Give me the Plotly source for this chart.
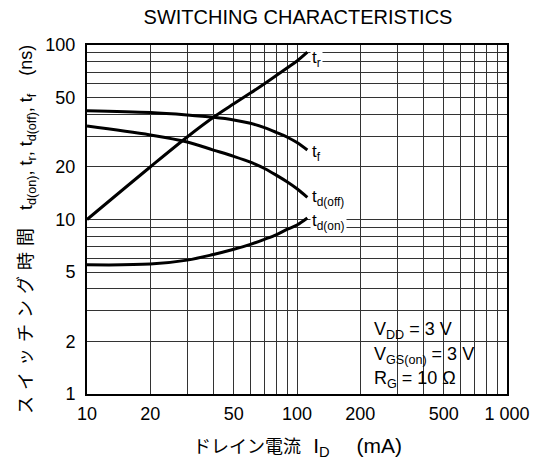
import math
import plotly.graph_objects as go

# ---- data ----
tr_x = [10, 20, 30, 40, 50, 60, 70, 80, 90, 100, 112]
tr_y = [10, 20, 29.7, 38.5, 46, 53, 60, 67, 74, 81, 91]

tf_x = [10, 20, 30, 40, 50, 60, 70, 80, 90, 100, 112]
tf_y = [42, 41, 39.7, 38.5, 37.2, 35.6, 33.6, 31.5, 29.6, 27.6, 25]

tdoff_x = [10, 20, 30, 40, 50, 60, 70, 80, 90, 100, 112]
tdoff_y = [34.3, 30.5, 27.8, 25, 23, 21.3, 19.6, 17.9, 16.4, 15, 13.4]

tdon_x = [10, 20, 30, 40, 50, 60, 70, 80, 90, 100, 112]
tdon_y = [5.5, 5.55, 5.85, 6.3, 6.75, 7.2, 7.7, 8.2, 8.8, 9.3, 10.2]

x_grid = [10, 20, 30, 40, 50, 60, 70, 80, 90, 100, 200, 300, 400, 500, 600, 700, 800, 900, 1000]
x_labels = {10: "10", 20: "20", 50: "50", 100: "100", 200: "200", 500: "500", 1000: "1 000"}
y_grid = [1, 2, 3, 4, 5, 6, 7, 8, 9, 10, 20, 30, 40, 50, 60, 70, 80, 90, 100]
y_labels = {1: "1", 2: "2", 5: "5", 10: "10", 20: "20", 50: "50", 100: "100"}

# (label, x, y, label offset below line end in px)
series = [
    ("t<sub>r</sub>", tr_x, tr_y, 7),
    ("t<sub>f</sub>", tf_x, tf_y, 3),
    ("t<sub>d(off)</sub>", tdoff_x, tdoff_y, 1),
    ("t<sub>d(on)</sub>", tdon_x, tdon_y, 4),
]

FONT = "Liberation Sans, Arial, sans-serif"
JP = "Liberation Sans, Noto Sans CJK JP, sans-serif"

W, H = 544, 465
L, R, T, B = 87, 37, 45, 71
pw, ph = W - L - R, H - T - B

fig = go.Figure()
for name, xs, ys, _ in series:
    fig.add_trace(go.Scatter(x=xs, y=ys, mode="lines",
                             line=dict(color="black", width=3, shape="spline", smoothing=1.0),
                             showlegend=False, hoverinfo="skip"))

annotations = []
for name, xs, ys, dy in series:
    annotations.append(dict(
        x=math.log10(xs[-1]), y=math.log10(ys[-1]), xref="x", yref="y",
        text=name, showarrow=False, xanchor="left", yanchor="middle",
        xshift=3, yshift=-dy,
        font=dict(family=FONT, size=17, color="black"),
        bgcolor="white", borderpad=1,
    ))

# conditions box
box_x0, box_y0 = 200, 3
fig.add_shape(type="rect", xref="x", yref="y",
              x0=math.log10(box_x0), x1=3, y0=0, y1=math.log10(box_y0),
              fillcolor="white", line=dict(color="black", width=1.2), layer="above")
cond_lines = ["V<sub>DD</sub> = 3 V", "V<sub>GS(on)</sub> = 3 V", "R<sub>G</sub> = 10 Ω"]
cond_y_px = [330, 355, 379]
for txt, ypx in zip(cond_lines, cond_y_px):
    annotations.append(dict(
        x=(372 - L) / pw, y=(H - B - ypx) / ph, xref="paper", yref="paper",
        text=txt, showarrow=False, xanchor="left", yanchor="middle",
        font=dict(family=FONT, size=18, color="black"),
    ))

# axis titles
annotations.append(dict(
    x=(297 - L) / pw, y=(H - B - 447) / ph, xref="paper", yref="paper",
    text="ドレイン電流<span style='font-size:21px'>\u2004\u2005I<sub>D</sub>\u2003 (mA)</span>",
    showarrow=False, xanchor="center", yanchor="middle",
    font=dict(family=JP, size=18, color="black"),
))
ytitle_jp = "\u2004".join("スイッチング時間")
annotations.append(dict(
    x=(27 - L) / pw, y=(H - B - 230) / ph, xref="paper", yref="paper",
    text=ytitle_jp + "\u3000t<sub>d(on)</sub>, t<sub>r</sub>, t<sub>d(off)</sub>, t<sub>f</sub>\u3000(ns)",
    showarrow=False, textangle=-90, xanchor="center", yanchor="middle",
    font=dict(family=JP, size=18, color="black"),
))

axis_common = dict(
    type="log", showgrid=True, gridcolor="#333", gridwidth=1,
    showline=True, linecolor="black", linewidth=2, mirror=True,
    ticks="", zeroline=False, tickfont=dict(family=FONT, size=18, color="black"),
)

fig.update_layout(
    width=W, height=H, margin=dict(l=L, r=R, t=T, b=B),
    paper_bgcolor="white", plot_bgcolor="white",
    title=dict(text="SWITCHING CHARACTERISTICS", x=298 / W, y=1 - 17 / H,
               xanchor="center", yanchor="middle",
               font=dict(family=FONT, size=20, color="black")),
    xaxis=dict(axis_common, range=[1, 3], tickvals=x_grid, ticklabelstandoff=2,
               ticktext=[x_labels.get(v, "") for v in x_grid]),
    yaxis=dict(axis_common, range=[0, 2], tickvals=y_grid, ticklabelstandoff=6,
               ticktext=[y_labels.get(v, "") for v in y_grid]),
    annotations=annotations,
)

fig.write_html("out.html", config={"displayModeBar": False},
               post_script="document.body.style.margin='0';")
